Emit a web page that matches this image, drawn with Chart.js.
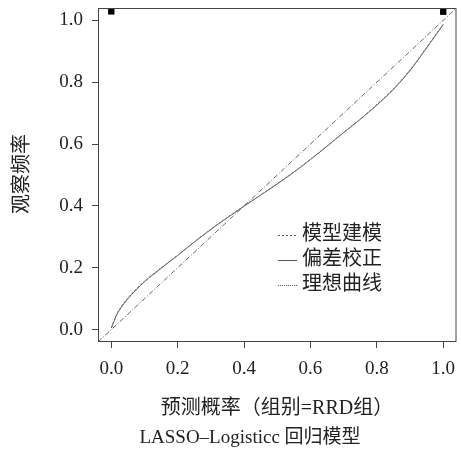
<!DOCTYPE html>
<html>
<head>
<meta charset="utf-8">
<script src="https://cdn.jsdelivr.net/npm/chart.js@4"></script>
<style>
  html, body { margin: 0; padding: 0; background: #fff; }
  #wrap { width: 461px; height: 459px; }
</style>
</head>
<body>
<div id="wrap"><canvas id="myChart"></canvas></div>
<script>
// calibration curve data
const predX     = [0, 0.02, 0.05, 0.1, 0.15, 0.2, 0.25, 0.3, 0.35, 0.4, 0.45, 0.5, 0.55, 0.6, 0.65, 0.7, 0.75, 0.8, 0.85, 0.9, 0.95, 1.0];
const biasY     = [0.005, 0.055, 0.1, 0.155, 0.198, 0.24, 0.283, 0.324, 0.362, 0.399, 0.435, 0.471, 0.509, 0.55, 0.593, 0.637, 0.68, 0.726, 0.777, 0.838, 0.911, 0.986];
const apparentY = [0.007, 0.058, 0.103, 0.157, 0.2, 0.241, 0.284, 0.325, 0.363, 0.4, 0.436, 0.472, 0.51, 0.551, 0.594, 0.638, 0.681, 0.728, 0.779, 0.84, 0.913, 0.988];
const idealX    = [-0.04, 1.04];
const rugX      = [0, 1];
const rugY      = [1.029, 1.028];
const tickVals  = [0, 0.2, 0.4, 0.6, 0.8, 1.0];

const legendItems = [
  { text: '模型建模', dash: [2, 2] },
  { text: '偏差校正', dash: [] },
  { text: '理想曲线', dash: [1, 1] }
];

const xTitle = '预测概率（组别=RRD组）';
const yTitle = '观察频率';
const subTitle = 'LASSO–Logisticc 回归模型';

const serif = "'Liberation Serif', 'Noto Sans CJK SC', serif";
Chart.defaults.font.family = serif;
Chart.defaults.color = '#222';

const zip = (xs, ys) => xs.map((x, i) => ({ x: x, y: ys[i] }));

const extras = {
  id: 'extras',
  afterDraw(chart) {
    const ctx = chart.ctx;
    const a = chart.chartArea;
    ctx.save();
    // box
    ctx.strokeStyle = '#444';
    ctx.lineWidth = 1;
    ctx.setLineDash([]);
    ctx.strokeRect(a.left + 0.5, a.top + 0.5, a.right - a.left - 1, a.bottom - a.top - 1);

    // legend inside plot
    ctx.font = "20px " + serif;
    ctx.fillStyle = '#222';
    ctx.textBaseline = 'middle';
    ctx.textAlign = 'left';
    legendItems.forEach((it, i) => {
      const y = 235 + i * 25;
      ctx.beginPath();
      ctx.setLineDash(it.dash);
      ctx.strokeStyle = '#555';
      ctx.moveTo(278, y + 0.5);
      ctx.lineTo(297, y + 0.5);
      ctx.stroke();
      ctx.fillText(it.text, 302, y);
    });
    ctx.setLineDash([]);

    // axis titles
    ctx.textAlign = 'center';
    ctx.fillText(xTitle, 277, 409);
    ctx.font = "19px " + serif;
    ctx.fillText(subTitle, 250, 438);
    ctx.save();
    ctx.translate(23, 174);
    ctx.rotate(-Math.PI / 2);
    ctx.font = "20px " + serif;
    ctx.fillText(yTitle, 0, 0);
    ctx.restore();
    ctx.restore();
  }
};

const axisCommon = {
  type: 'linear',
  min: -0.04,
  max: 1.04,
  afterBuildTicks: s => { s.ticks = tickVals.map(v => ({ value: v })); },
  grid: { drawOnChartArea: false, drawTicks: true, tickLength: 6, color: '#444' },
  border: { display: false },
  ticks: {
    font: { size: 19 },
    color: '#222',
    callback: v => v.toFixed(1)
  }
};

new Chart(document.getElementById('myChart'), {
  type: 'line',
  data: {
    datasets: [
      {
        label: '理想曲线',
        data: zip(idealX, idealX),
        borderColor: '#666',
        borderWidth: 1,
        borderDash: [5, 2, 1, 2],
        pointRadius: 0
      },
      {
        label: '模型建模',
        data: zip(predX, apparentY),
        borderColor: '#777',
        borderWidth: 1,
        borderDash: [2, 2],
        pointRadius: 0,
        tension: 0.3
      },
      {
        label: '偏差校正',
        data: zip(predX, biasY),
        borderColor: '#555',
        borderWidth: 1,
        pointRadius: 0,
        tension: 0.3
      },
      {
        type: 'scatter',
        label: 'rug',
        data: zip(rugX, rugY),
        pointStyle: 'rect',
        pointRadius: 4.5,
        backgroundColor: '#000',
        borderColor: '#000',
        borderWidth: 0,
        clip: false
      }
    ]
  },
  options: {
    responsive: true,
    maintainAspectRatio: false,
    animation: false,
    layout: { padding: { top: 8, right: 3, left: 0, bottom: 0 } },
    plugins: { legend: { display: false }, tooltip: { enabled: false } },
    scales: {
      x: Object.assign({}, axisCommon, {
        position: 'bottom',
        afterFit: s => { s.height = 117; s.paddingLeft = 0; s.paddingRight = 0; },
        ticks: Object.assign({}, axisCommon.ticks, { padding: 10, maxRotation: 0 })
      }),
      y: Object.assign({}, axisCommon, {
        position: 'left',
        afterFit: s => { s.width = 98; s.paddingTop = 0; s.paddingBottom = 0; },
        ticks: Object.assign({}, axisCommon.ticks, { padding: 9 })
      })
    }
  },
  plugins: [extras]
});
</script>
</body>
</html>
